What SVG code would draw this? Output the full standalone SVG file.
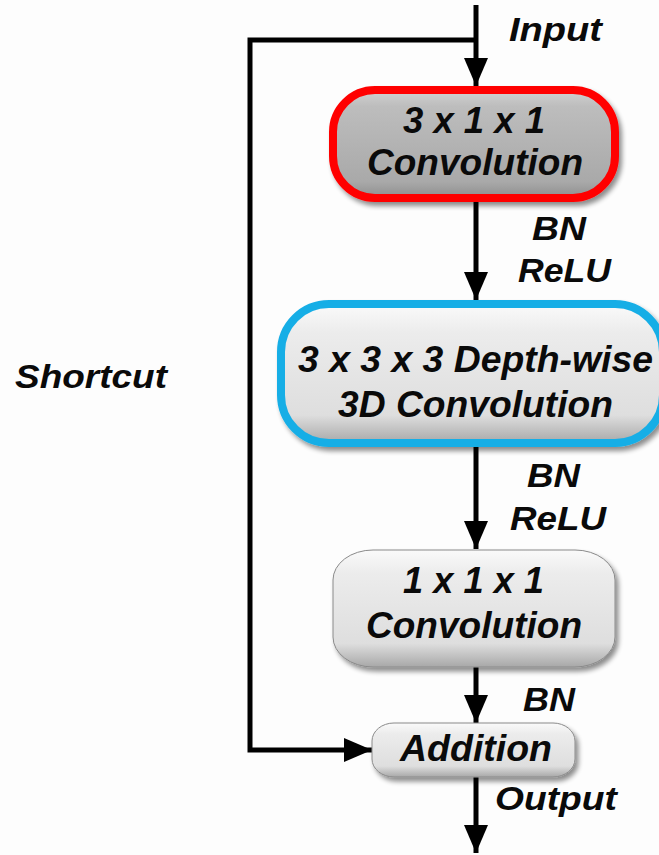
<svg xmlns="http://www.w3.org/2000/svg" width="659" height="855" viewBox="0 0 659 855">
<defs>
<style>
text{font-family:"Liberation Sans",Arial,sans-serif;font-weight:bold;font-style:italic;fill:#0a0a0a}
.big{font-size:36px}
.lbl{font-size:33px}
.wire{fill:none;stroke:#000;stroke-width:5}
</style>
<linearGradient id="gDark" x1="0" y1="0" x2="0" y2="1">
<stop offset="0" stop-color="#d2d2d2"/><stop offset="0.15" stop-color="#bdbdbd"/><stop offset="0.85" stop-color="#a9a9a9"/><stop offset="1" stop-color="#8e8e8e"/>
</linearGradient>
<linearGradient id="gLight" x1="0" y1="0" x2="0" y2="1">
<stop offset="0" stop-color="#fafafa"/><stop offset="0.2" stop-color="#ececec"/><stop offset="0.8" stop-color="#dedede"/><stop offset="1" stop-color="#a8a8a8"/>
</linearGradient>
<filter id="sh" x="-10%" y="-10%" width="125%" height="130%">
<feGaussianBlur in="SourceAlpha" stdDeviation="2.5"/>
<feOffset dx="3" dy="4" result="b"/>
<feComponentTransfer><feFuncA type="linear" slope="0.45"/></feComponentTransfer>
<feMerge><feMergeNode/><feMergeNode in="SourceGraphic"/></feMerge>
</filter>
<marker id="ah" markerUnits="userSpaceOnUse" markerWidth="28" markerHeight="24" viewBox="0 0 28 24" refX="28" refY="12" orient="auto">
<path d="M0,0 L28,12 L0,24 z" fill="#000"/>
</marker>
</defs>
<rect width="659" height="855" fill="#fdfdfd"/>
<g id="connectors">
<path class="wire" d="M476,5 V86" marker-end="url(#ah)"/>
<path class="wire" d="M476,40 H250 V750 H372" marker-end="url(#ah)"/>
<path class="wire" d="M476,202 V300" marker-end="url(#ah)"/>
<path class="wire" d="M476,447 V549" marker-end="url(#ah)"/>
<path class="wire" d="M476,667 V723" marker-end="url(#ah)"/>
<path class="wire" d="M476,777 V853" marker-end="url(#ah)"/>
</g>
<g id="labels">
<text class="lbl" x="509" y="41" textLength="93" lengthAdjust="spacingAndGlyphs">Input</text>
<text class="lbl" x="532" y="240" textLength="54" lengthAdjust="spacingAndGlyphs">BN</text>
<text class="lbl" x="518" y="282" textLength="93" lengthAdjust="spacingAndGlyphs">ReLU</text>
<text class="lbl" x="527" y="487" textLength="53" lengthAdjust="spacingAndGlyphs">BN</text>
<text class="lbl" x="510" y="530" textLength="96" lengthAdjust="spacingAndGlyphs">ReLU</text>
<text class="lbl" x="523" y="711" textLength="52" lengthAdjust="spacingAndGlyphs">BN</text>
<text class="lbl" x="495" y="810" textLength="122" lengthAdjust="spacingAndGlyphs">Output</text>
<text class="lbl" x="15" y="388" textLength="152" lengthAdjust="spacingAndGlyphs">Shortcut</text>
</g>
<g id="conv311">
<rect x="333" y="90" width="282" height="108" rx="42" fill="url(#gDark)" stroke="#ff0000" stroke-width="8" filter="url(#sh)"/>
<text class="big" x="403" y="133" textLength="142" lengthAdjust="spacingAndGlyphs">3 x 1 x 1</text>
<text class="big" x="367" y="175" textLength="216" lengthAdjust="spacingAndGlyphs">Convolution</text>
</g>
<g id="dwconv">
<rect x="281" y="304" width="382" height="139" rx="48" fill="url(#gLight)" stroke="#19aee6" stroke-width="8" filter="url(#sh)"/>
<text class="big" x="298" y="372" textLength="355" lengthAdjust="spacingAndGlyphs">3 x 3 x 3 Depth-wise</text>
<text class="big" x="338" y="417" textLength="275" lengthAdjust="spacingAndGlyphs">3D Convolution</text>
</g>
<g id="conv111">
<rect x="333" y="550" width="282" height="117" rx="40" ry="30" fill="url(#gLight)" stroke="#8a8a8a" stroke-width="1" filter="url(#sh)"/>
<text class="big" x="403" y="593" textLength="141" lengthAdjust="spacingAndGlyphs">1 x 1 x 1</text>
<text class="big" x="366" y="638" textLength="216" lengthAdjust="spacingAndGlyphs">Convolution</text>
</g>
<g id="addition">
<rect x="372" y="723" width="203" height="54" rx="22" ry="18" fill="url(#gLight)" stroke="#8a8a8a" stroke-width="1" filter="url(#sh)"/>
<text class="big" x="400" y="761" textLength="152" lengthAdjust="spacingAndGlyphs">Addition</text>
</g>
</svg>
